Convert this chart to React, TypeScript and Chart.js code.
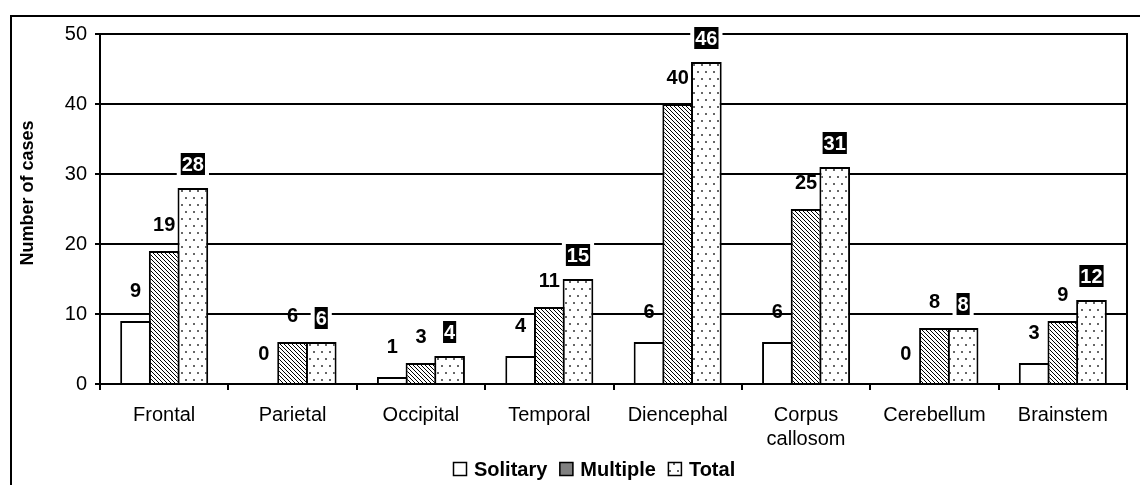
import { useEffect, useRef } from 'react';
import { Chart, registerables } from 'chart.js';

Chart.register(...registerables);

const categories: (string | string[])[] = [
  'Frontal',
  'Parietal',
  'Occipital',
  'Temporal',
  'Diencephal',
  ['Corpus', 'callosom'],
  'Cerebellum',
  'Brainstem',
];
const seriesNames = ['Solitary', 'Multiple', 'Total'];
const solitary = [9, 0, 1, 4, 6, 6, 0, 3];
const multiple = [19, 6, 3, 11, 40, 25, 8, 9];
const total = [28, 6, 4, 15, 46, 31, 8, 12];
const yMin = 0;
const yMax = 50;
const yStep = 10;
const yTitle = 'Number of cases';

const FONT = '"Liberation Sans", Arial, Helvetica, sans-serif';
const LABEL_OFFSETS = [31, 27, 24];

function makeHatch(): CanvasPattern | string {
  const c = document.createElement('canvas');
  c.width = 4;
  c.height = 4;
  const g = c.getContext('2d');
  if (!g) return '#888';
  g.fillStyle = '#fff';
  g.fillRect(0, 0, 4, 4);
  g.fillStyle = '#000';
  for (let i = 0; i < 4; i++) g.fillRect(i, i, 1, 1);
  return g.createPattern(c, 'repeat') || '#888';
}

function makeDots(): CanvasPattern | string {
  const c = document.createElement('canvas');
  c.width = 8;
  c.height = 14;
  const g = c.getContext('2d');
  if (!g) return '#eee';
  g.fillStyle = '#fff';
  g.fillRect(0, 0, 8, 14);
  g.fillStyle = '#666';
  g.fillRect(1, 1, 2, 2);
  g.fillRect(5, 8, 2, 2);
  return g.createPattern(c, 'repeat') || '#eee';
}

export default function App() {
  const ref = useRef<HTMLCanvasElement | null>(null);

  useEffect(() => {
    const canvas = ref.current;
    if (!canvas) return;
    const hatch = makeHatch();
    const dots = makeDots();
    const fills = ['#ffffff', hatch, dots];
    const legendFills = ['#ffffff', '#808080', dots];
    const values = [solitary, multiple, total];

    const framePlugin = {
      id: 'frame',
      beforeDraw(chart: any) {
        const ctx = chart.ctx;
        ctx.save();
        ctx.fillStyle = '#fff';
        ctx.fillRect(0, 0, chart.width, chart.height);
        ctx.strokeStyle = '#000';
        ctx.lineWidth = 2;
        ctx.strokeRect(11, 16, chart.width + 40, chart.height + 40);
        ctx.restore();
      },
      afterDraw(chart: any) {
        const { ctx, chartArea } = chart;
        ctx.save();
        // right edge of plot area
        ctx.strokeStyle = '#000';
        ctx.lineWidth = 2;
        ctx.beginPath();
        const x = Math.round(chartArea.right);
        ctx.moveTo(x, chartArea.top - 1);
        ctx.lineTo(x, chartArea.bottom);
        ctx.stroke();

        // y axis title
        ctx.fillStyle = '#000';
        ctx.font = `bold 18px ${FONT}`;
        ctx.textAlign = 'center';
        ctx.textBaseline = 'middle';
        ctx.save();
        ctx.translate(28, 193);
        ctx.rotate(-Math.PI / 2);
        ctx.fillText(yTitle, 0, 0);
        ctx.restore();

        // legend
        ctx.font = `bold 20px ${FONT}`;
        ctx.textAlign = 'left';
        ctx.textBaseline = 'middle';
        let lx = 453;
        const ly = 469;
        seriesNames.forEach((name, i) => {
          ctx.fillStyle = legendFills[i] as any;
          ctx.fillRect(lx, ly - 7, 14, 14);
          ctx.strokeStyle = '#000';
          ctx.lineWidth = 1.5;
          ctx.strokeRect(lx + 0.5, ly - 6.5, 13, 13);
          ctx.fillStyle = '#000';
          ctx.fillText(name, lx + 21, ly + 1);
          lx += 21 + ctx.measureText(name).width + 12;
        });
        ctx.restore();
      },
    };

    const labelPlugin = {
      id: 'valueLabels',
      afterDatasetsDraw(chart: any) {
        const ctx = chart.ctx;
        ctx.save();
        ctx.font = `bold 20px ${FONT}`;
        ctx.textAlign = 'center';
        ctx.textBaseline = 'middle';
        chart.data.datasets.forEach((ds: any, di: number) => {
          const meta = chart.getDatasetMeta(di);
          meta.data.forEach((el: any, j: number) => {
            const text = String(ds.data[j]);
            const x = el.x;
            const y = el.y - LABEL_OFFSETS[di];
            if (di === 2) {
              const w = ctx.measureText(text).width;
              ctx.fillStyle = '#fff';
              ctx.fillRect(x - w / 2 - 5, y - 14, w + 10, 28);
              ctx.fillStyle = '#000';
              ctx.fillRect(x - w / 2 - 1, y - 11, w + 2, 22);
              ctx.fillStyle = '#fff';
              ctx.fillText(text, x, y + 1);
            } else {
              ctx.fillStyle = '#000';
              ctx.fillText(text, x, y + 1);
            }
          });
        });
        ctx.restore();
      },
    };

    const chart = new Chart(canvas, {
      type: 'bar',
      data: {
        labels: categories,
        datasets: seriesNames.map((name, i) => ({
          label: name,
          data: values[i],
          backgroundColor: fills[i] as any,
          borderColor: '#000',
          borderWidth: 2,
          borderSkipped: 'bottom',
          categoryPercentage: 0.67,
          barPercentage: 1.07,
        })),
      },
      options: {
        responsive: false,
        animation: false,
        devicePixelRatio: 1,
        layout: { padding: { top: 34, left: 0, right: 13, bottom: 0 } },
        plugins: {
          tooltip: { enabled: false },
          legend: { display: false },
        },
        scales: {
          x: {
            afterFit: (scale: any) => {
              scale.height = 101;
            },
            grid: {
              display: true,
              drawOnChartArea: false,
              drawTicks: true,
              tickLength: 6,
              color: '#000',
              lineWidth: 2,
              offset: true,
            },
            border: { display: true, color: '#000', width: 2 },
            ticks: {
              color: '#000',
              font: { family: FONT, size: 20 },
              padding: 13,
              maxRotation: 0,
              autoSkip: false,
            },
          },
          y: {
            min: yMin,
            max: yMax,
            afterFit: (scale: any) => {
              scale.width = 100;
            },
            title: { display: false },
            grid: {
              color: '#000',
              lineWidth: 2,
              tickLength: 5,
              drawTicks: true,
            },
            border: { display: true, color: '#000', width: 2 },
            ticks: {
              stepSize: yStep,
              color: '#000',
              font: { family: FONT, size: 20 },
              padding: 8,
            },
          },
        },
      },
      plugins: [framePlugin, labelPlugin],
    } as any);

    return () => chart.destroy();
  }, []);

  return (
    <div style={{ position: 'fixed', left: 0, top: 0, width: 1140, height: 485, background: '#fff' }}>
      <canvas ref={ref} width={1140} height={485} style={{ display: 'block', width: 1140, height: 485 }} />
    </div>
  );
}
